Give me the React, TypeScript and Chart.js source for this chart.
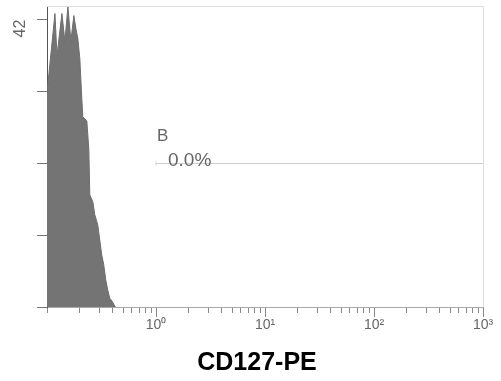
import React, { useEffect, useRef } from 'react';
import { Chart, registerables } from 'chart.js';

Chart.register(...registerables);

// CD127-PE intensity (log scale) and event counts of the histogram outline
const intensity = [
  0.1, 0.1021, 0.1183, 0.1234, 0.1371, 0.146, 0.1555, 0.1656, 0.1764, 0.184,
  0.1919, 0.2001, 0.2087, 0.2132, 0.2319, 0.2419, 0.247, 0.2632, 0.2744, 0.2923,
  0.3048, 0.3179, 0.3315, 0.3457, 0.3607, 0.376, 0.4007, 0.4178, 0.4267,
];
const counts = [
  31.3, 31.3, 42.9, 36.7, 42.9, 38.8, 43.9, 38.9, 42.6, 40.7,
  39.2, 36.3, 30.4, 27.8, 27.2, 23.1, 16.4, 15.4, 13.5, 12.0,
  9.8, 7.6, 6.2, 4.0, 2.5, 1.3, 0.7, 0.15, 0,
];

const xMin = 0.1;
const xMax = 1000;
const yMax = 44;
const majorTickValues = [1, 10, 100, 1000];
const majorTickLabels = ['10\u2070', '10\u00b9', '10\u00b2', '10\u00b3'];
const decadeStarts = [0.1, 1, 10, 100];
const minorSignificands = [2, 3, 4, 5, 6, 7, 8, 9];
const yTickValues = [0, 10.5, 21, 31.5, 42];
const yTickLabels = ['', '', '', '', '42'];

const gateLow = 1;
const gateHigh = 1000;
const gateLevel = 21;
const gateName = 'B';
const gatePercent = '0.0%';
const axisTitle = 'CD127-PE';

const FONT = '"Liberation Sans", Arial, sans-serif';

const xTicks: number[] = [0.1];
decadeStarts.forEach((d) => {
  minorSignificands.forEach((s) => xTicks.push(+(d * s).toPrecision(3)));
  xTicks.push(d * 10);
});

const isMajor = (v: number) => majorTickValues.some((m) => Math.abs(m - v) < 1e-9);

const overlayPlugin = {
  id: 'overlay',
  afterDraw(chart: any) {
    const { ctx, chartArea, scales } = chart;
    const xs = scales.x;
    const ys = scales.y;
    ctx.save();
    // faint top and right frame
    ctx.strokeStyle = '#dedede';
    ctx.lineWidth = 1;
    ctx.beginPath();
    ctx.moveTo(chartArea.left, chartArea.top + 0.5);
    ctx.lineTo(chartArea.right + 0.5, chartArea.top + 0.5);
    ctx.lineTo(chartArea.right + 0.5, chartArea.bottom);
    ctx.stroke();
    // gate line
    const gx1 = xs.getPixelForValue(gateLow);
    const gx2 = xs.getPixelForValue(gateHigh);
    const gy = Math.round(ys.getPixelForValue(gateLevel)) + 0.5;
    ctx.strokeStyle = '#cfcfcf';
    ctx.beginPath();
    ctx.moveTo(gx1, gy);
    ctx.lineTo(gx2, gy);
    ctx.moveTo(gx1, gy - 2);
    ctx.lineTo(gx1, gy + 2);
    ctx.stroke();
    // gate labels
    ctx.fillStyle = '#666';
    ctx.textAlign = 'left';
    ctx.textBaseline = 'alphabetic';
    ctx.font = `17px ${FONT}`;
    ctx.fillText(gateName, gx1 + 1, gy - 23);
    ctx.font = `19px ${FONT}`;
    ctx.fillText(gatePercent, gx1 + 12, gy + 2);
    // axis title
    ctx.fillStyle = '#000';
    ctx.font = `bold 25px ${FONT}`;
    ctx.textAlign = 'center';
    ctx.fillText(axisTitle, 257, chart.height - 11);
    ctx.restore();
  },
};

export default function App() {
  const canvasRef = useRef<HTMLCanvasElement | null>(null);

  useEffect(() => {
    if (!canvasRef.current) return;
    const chart = new Chart(canvasRef.current, {
      type: 'line',
      data: {
        datasets: [
          {
            data: intensity.map((x, i) => ({ x, y: counts[i] })),
            borderColor: '#6e6e6e',
            backgroundColor: '#747474',
            borderWidth: 1,
            fill: 'origin',
            pointRadius: 0,
            tension: 0,
          },
        ],
      },
      options: {
        animation: false,
        responsive: false,
        events: [],
        layout: { padding: { left: 8, right: 18, top: 6, bottom: 36 } },
        plugins: {
          legend: { display: false },
          tooltip: { enabled: false },
          title: { display: false },
        },
        scales: {
          x: {
            type: 'logarithmic',
            min: xMin,
            max: xMax,
            afterBuildTicks: (s: any) => {
              s.ticks = xTicks.map((v) => ({ value: v, major: false }));
            },
            afterFit: (s: any) => {
              s.height = 38;
            },
            ticks: {
              autoSkip: false,
              minRotation: 0,
              maxRotation: 0,
              padding: 0,
              color: '#666',
              font: { family: FONT, size: 14 },
              callback: (_v: any, i: number) => {
                const v = xTicks[i];
                const k = majorTickValues.findIndex((m) => Math.abs(m - v) < 1e-9);
                return k >= 0 ? majorTickLabels[k] : '';
              },
            },
            grid: {
              drawOnChartArea: false,
              drawTicks: true,
              tickLength: 10,
              tickColor: '#888',
              tickBorderDash: (ctx: any) => (ctx.tick && isMajor(ctx.tick.value) ? [] : [5, 40]),
            },
            border: { display: true, color: '#a8a8a8' },
          },
          y: {
            type: 'linear',
            min: 0,
            max: yMax,
            afterBuildTicks: (s: any) => {
              s.ticks = yTickValues.map((v) => ({ value: v }));
            },
            afterFit: (s: any) => {
              s.width = 39;
              s.paddingTop = 0;
              s.paddingBottom = 0;
            },
            ticks: {
              autoSkip: false,
              minRotation: 90,
              maxRotation: 90,
              padding: 16,
              color: '#666',
              font: { family: FONT, size: 16 },
              callback: (_v: any, i: number) => yTickLabels[i],
            },
            grid: {
              drawOnChartArea: false,
              drawTicks: true,
              tickLength: 10,
              tickColor: '#777',
            },
            border: { display: true, color: '#555' },
          },
        },
      },
      plugins: [overlayPlugin],
    } as any);
    return () => chart.destroy();
  }, []);

  return (
    <div style={{ position: 'fixed', left: 0, top: 0, width: 501, height: 381, background: '#fff' }}>
      <canvas ref={canvasRef} width={501} height={381} style={{ width: 501, height: 381 }} />
    </div>
  );
}
